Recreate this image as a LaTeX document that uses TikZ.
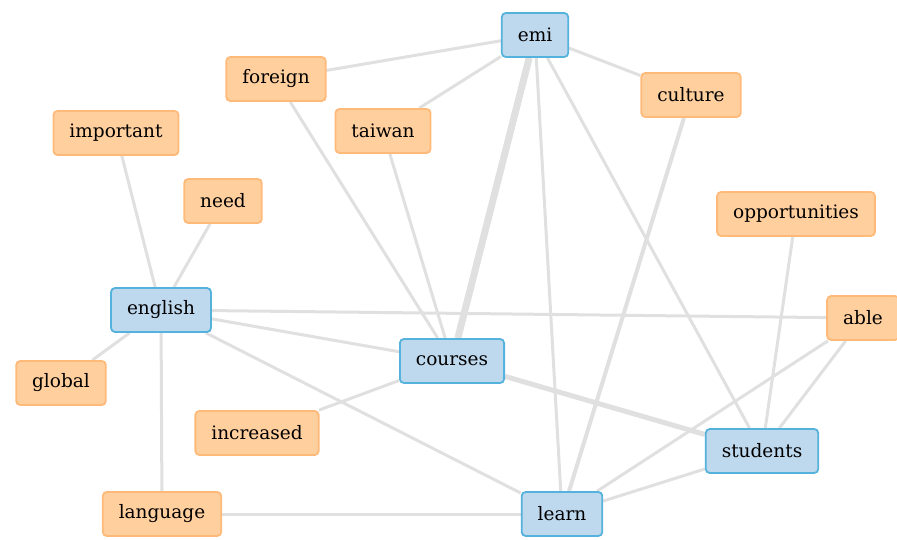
\documentclass[tikz,border=0pt]{standalone}
\usepackage{fontspec}
\setmainfont{DejaVu Serif}
\usetikzlibrary{backgrounds}
\definecolor{keyfill}{RGB}{190,216,238}
\definecolor{keyline}{RGB}{84,178,220}
\definecolor{wordfill}{RGB}{255,207,158}
\definecolor{wordline}{RGB}{255,186,122}
\definecolor{linkgray}{RGB}{224,224,224}

\begin{document}
\begin{tikzpicture}[x=1pt, y=-1pt,
  keyword/.style={draw=keyline, fill=keyfill, line width=1.8pt, rounded corners=4pt,
    minimum height=44pt, inner xsep=16pt, font=\fontsize{18.5}{22}\selectfont},
  word/.style={keyword, draw=wordline, fill=wordfill},
  link/.style={linkgray, line width=3pt},
  thicklink/.style={linkgray, line width=7pt}]

\useasboundingbox (0,0) rectangle (897,540);

% blue nodes
\node[keyword] (emi) at (535,35) {emi};
\node[keyword] (english) at (161,310) {english};
\node[keyword] (courses) at (452,361) {courses};
\node[keyword] (students) at (762,451) {students};
\node[keyword] (learn) at (562,514) {learn};

% orange nodes
\node[word] (foreign) at (276,79) {foreign};
\node[word] (taiwan) at (383,131) {taiwan};
\node[word] (culture) at (691,95) {culture};
\node[word] (important) at (116,133) {important};
\node[word] (need) at (223,201) {need};
\node[word] (opportunities) at (796,214) {opportunities};
\node[word] (able) at (863,318) {able};
\node[word] (global) at (61,383) {global};
\node[word] (increased) at (257,433) {increased};
\node[word] (language) at (162,514) {language};

\begin{pgfonlayer}{background}
\draw[link] (emi) -- (foreign);
\draw[link] (emi) -- (taiwan);
\draw[link] (emi) -- (culture);
\draw[thicklink] (emi) -- (courses);
\draw[link] (emi) -- (learn);
\draw[link] (emi) -- (students);
\draw[link] (foreign) -- (courses);
\draw[link] (taiwan) -- (courses);
\draw[link, line width=4pt] (culture) -- (learn);

\draw[link] (important) -- (english);
\draw[link] (need) -- (english);
\draw[link] (global) -- (english);
\draw[link] (english) -- (able);
\draw[link] (english) -- (courses);
\draw[link] (english) -- (learn);
\draw[link] (english) -- (language);

\draw[link] (opportunities) -- (students);
\draw[link] (able) -- (students);
\draw[link] (able) -- (learn);
\draw[link] (courses) -- (increased);
\draw[link, line width=5pt] (courses) -- (students);
\draw[link] (students) -- (learn);
\draw[link] (language) -- (learn);
\end{pgfonlayer}

\end{tikzpicture}
\end{document}
